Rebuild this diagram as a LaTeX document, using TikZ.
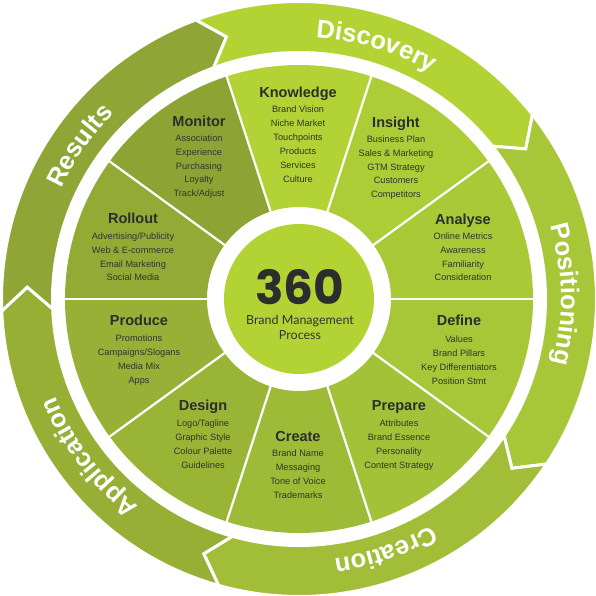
\documentclass[tikz,border=0pt]{standalone}
\usepackage{fontspec}
\setmainfont{Liberation Sans}
\newfontfamily\numfont{Poppins}
\newfontfamily\subfont{Lato}
\usetikzlibrary{decorations.text}
\definecolor{knowc}{HTML}{B2D235}
\definecolor{insc}{HTML}{ADCD36}
\definecolor{anac}{HTML}{A9C937}
\definecolor{defc}{HTML}{A7C638}
\definecolor{prepc}{HTML}{A3C238}
\definecolor{crec}{HTML}{9EBB37}
\definecolor{desc}{HTML}{9AB536}
\definecolor{proc}{HTML}{97B035}
\definecolor{rollc}{HTML}{93AB34}
\definecolor{monc}{HTML}{8DA434}
\definecolor{cenc}{HTML}{B3D334}
\definecolor{disc}{HTML}{B3D334}
\definecolor{posc}{HTML}{A8C738}
\definecolor{creac}{HTML}{A2BE38}
\definecolor{appc}{HTML}{97AF35}
\definecolor{resc}{HTML}{8FA535}
\definecolor{txt}{HTML}{2D2D2D}
\definecolor{txtb}{HTML}{333333}
\newcommand\ringfont{\fontsize{25.5}{26}\selectfont\bfseries}
\tikzset{
  segtitle/.style={anchor=base, inner sep=0pt, text=txt, font=\fontsize{14.5}{15}\selectfont\bfseries},
  segitem/.style={anchor=base, inner sep=0pt, text=txtb, font=\fontsize{9.2}{10}\selectfont},
  gapline/.style={white, line width=2.2pt},
  bandshape/.style={draw=white, line width=3pt},
  ringtext/.style={decorate, decoration={text along path, text align=center, text color=white, text={|\ringfont|#1}}}
}
\newcommand\sector[3]{%
  \fill[#3] (#1:92) arc[start angle=#1, end angle=#2, radius=92] -- (#2:234) arc[start angle=#2, end angle=#1, radius=234] -- cycle;}
\newcommand\band[3]{%
  \filldraw[bandshape, fill=#3] ({#1+2.3}:297.5) arc[start angle={#1+2.3}, end angle={#2+2.3}, radius=297.5] -- ({#2-2.5}:272) -- ({#2+2.3}:246.5) arc[start angle={#2+2.3}, end angle={#1+2.3}, radius=246.5] -- ({#1-2.5}:272) -- cycle;}
\newcommand\segtext[6]{%
  \node[segtitle] (#1) at (#2,#3) {#5};
  \foreach \t [count=\i] in {#6} {\node[segitem] (#1-\i) at (#2,{#4+(\i-1)*13.9}) {\t};}}
\begin{document}
\begin{tikzpicture}[x=1pt, y=1pt]
\useasboundingbox (-299,-297) rectangle (297,299);
\fill[white] (-299,-297) rectangle (297,299);
% outer ring
\band{108}{36}{disc}
\band{36}{-36}{posc}
\band{-36}{-108}{creac}
\band{-108}{-180}{appc}
\band{180}{108}{resc}
\path[ringtext=Discovery] (109:262) arc[start angle=109, end angle=37, radius=262];
\path[ringtext=Positioning] (37:262) arc[start angle=37, end angle=-35, radius=262];
\path[ringtext=Creation] (-35:262) arc[start angle=-35, end angle=-107, radius=262];
\path[ringtext=Application] (-107:262) arc[start angle=-107, end angle=-179, radius=262];
\path[ringtext=Results] (181:262) arc[start angle=181, end angle=109, radius=262];
% segments
\sector{72}{108}{knowc}
\sector{36}{72}{insc}
\sector{0}{36}{anac}
\sector{-36}{0}{defc}
\sector{-72}{-36}{prepc}
\sector{-108}{-72}{crec}
\sector{-144}{-108}{desc}
\sector{180}{216}{proc}
\sector{144}{180}{rollc}
\sector{108}{144}{monc}
\foreach \a in {108,72,36,0,-36,-72,-108,-144,180,144}
  \draw[gapline] (\a:90) -- (\a:236);
% centre
\fill[cenc] (0,0) circle[radius=75];
\begin{scope}[shift={(-299,299)}, y=-1pt]
  \segtext{know}{298}{97.7}{112.8}{Knowledge}{Brand Vision,Niche Market,Touchpoints,Products,Services,Culture}
  \segtext{mon}{199}{126.2}{141.3}{Monitor}{Association,Experience,Purchasing,Loyalty,Track/Adjust}
  \segtext{ins}{396}{127.2}{142.3}{Insight}{Business Plan,Sales \& Marketing,GTM Strategy,Customers,Competitors}
  \segtext{roll}{133}{223.2}{239.3}{Rollout}{Advertising/Publicity,Web \& E-commerce,Email Marketing,Social Media}
  \segtext{ana}{463}{224.2}{239.3}{Analyse}{Online Metrics,Awareness,Familiarity,Consideration}
  \segtext{prod}{139}{325.2}{341.3}{Produce}{Promotions,Campaigns/Slogans,Media Mix,Apps}
  \segtext{def}{459}{325.2}{342.3}{Define}{Values,Brand Pillars,Key Differentiators,Position Stmt}
  \segtext{des}{203}{410.2}{426.3}{Design}{Logo/Tagline,Graphic Style,Colour Palette,Guidelines}
  \segtext{prep}{399}{410.2}{426.3}{Prepare}{Attributes,Brand Essence,Personality,Content Strategy}
  \segtext{cre}{298}{441.2}{456.8}{Create}{Brand Name,Messaging,Tone of Voice,Trademarks}
  \node[anchor=base, inner sep=0pt, text=txt, font=\numfont\bfseries\fontsize{47}{47}\selectfont] (num) at (300,305) {360};
  \node[anchor=base, inner sep=0pt, text=txtb, font=\subfont\fontsize{12.5}{13}\selectfont] (sub1) at (300,324.5) {Brand Management};
  \node[anchor=base, inner sep=0pt, text=txtb, font=\subfont\fontsize{12.5}{13}\selectfont] (sub2) at (300,339.5) {Process};
\end{scope}
\end{tikzpicture}
\end{document}
